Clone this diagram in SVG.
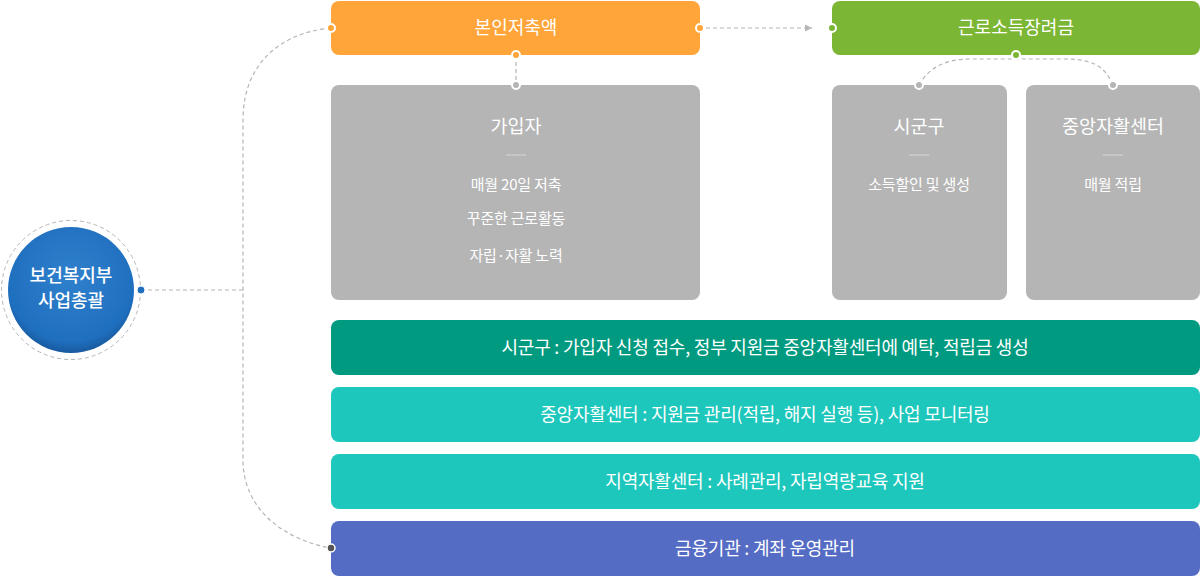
<svg xmlns="http://www.w3.org/2000/svg" width="1200" height="576" viewBox="0 0 1200 576">
<defs>
<style>
text{font-family:"Noto Sans CJK KR","Noto Sans",sans-serif;fill:#fff;text-anchor:middle}
.t{font-size:18px}
.h{font-size:18.5px}
.s{font-size:15px;letter-spacing:-0.2px}
.b{font-size:18px;letter-spacing:-0.2px}
.c{font-size:18px;font-weight:500}
.dash{fill:none;stroke:#b5b5b5;stroke-width:1.2;stroke-dasharray:4 3}
.gray{fill:#b5b5b5}
.sep{stroke:#d8d8d8;stroke-width:1}
</style>
<radialGradient id="cg" cx="50%" cy="40%" r="60%">
<stop offset="0" stop-color="#2f80cc"/>
<stop offset="0.85" stop-color="#1f6fbf"/>
<stop offset="1" stop-color="#185a9e"/>
</radialGradient>
<marker id="arr" viewBox="0 0 10 10" refX="10" refY="5" markerWidth="7" markerHeight="8" markerUnits="userSpaceOnUse" orient="auto">
<path d="M0,0 L10,5 L0,10 Z" fill="#b5b5b5"/>
</marker>
</defs>
<g id="connectors">
<path class="dash" d="M141,290 H243"/>
<path class="dash" d="M331,28 C285,32 243,60 243,120 V460 C243,510 285,540 331,548"/>
<path class="dash" d="M706,28 H812" marker-end="url(#arr)"/>
<path class="dash" d="M516,55 V85"/>
<path class="dash" d="M919,85 C930,65 950,59 970,59 H1065 C1090,59 1105,65 1113,85"/>
</g>
<g id="hq">
<circle cx="71" cy="290" r="69.5" fill="#fff" stroke="#b5b5b5" stroke-width="1" stroke-dasharray="4 3"/>
<circle cx="71" cy="290" r="63" fill="url(#cg)"/>
<text class="c" x="71" y="282">보건복지부</text>
<text class="c" x="71" y="307">사업총괄</text>
<circle cx="141" cy="290" r="4" fill="#1f6fbf" stroke="#fff" stroke-width="1"/>
</g>
<g id="self-saving">
<rect x="331" y="1" width="369" height="54" rx="8" fill="#ffa53a"/>
<text class="t" x="516" y="34">본인저축액</text>
<circle cx="331" cy="28" r="4" fill="#ffa53a" stroke="#fff" stroke-width="2"/>
<circle cx="700" cy="28" r="4" fill="#ffa53a" stroke="#fff" stroke-width="2"/>
<circle cx="516" cy="55" r="4" fill="#ffa53a" stroke="#fff" stroke-width="2"/>
</g>
<g id="incentive">
<rect x="832" y="1" width="368" height="54" rx="8" fill="#7bb634"/>
<text class="t" x="1016" y="34">근로소득장려금</text>
<circle cx="832" cy="28" r="4" fill="#7bb634" stroke="#fff" stroke-width="2"/>
<circle cx="1016" cy="55" r="4" fill="#7bb634" stroke="#fff" stroke-width="2"/>
</g>
<g id="subscriber">
<rect class="gray" x="331" y="85" width="369" height="215" rx="8"/>
<circle cx="516" cy="85" r="4" fill="#b5b5b5" stroke="#fff" stroke-width="2"/>
<text class="h" x="516" y="133">가입자</text>
<line class="sep" x1="506" y1="155" x2="526" y2="155"/>
<text class="s" x="516" y="190">매월 20일 저축</text>
<text class="s" x="516" y="224">꾸준한 근로활동</text>
<text class="s" x="516" y="261">자립·자활 노력</text>
</g>
<g id="sigungu">
<rect class="gray" x="832" y="85" width="175" height="215" rx="8"/>
<circle cx="919" cy="85" r="4" fill="#b5b5b5" stroke="#fff" stroke-width="2"/>
<text class="h" x="919" y="133">시군구</text>
<line class="sep" x1="909" y1="155" x2="929" y2="155"/>
<text class="s" x="919" y="190">소득할인 및 생성</text>
</g>
<g id="central">
<rect class="gray" x="1026" y="85" width="174" height="215" rx="8"/>
<circle cx="1113" cy="85" r="4" fill="#b5b5b5" stroke="#fff" stroke-width="2"/>
<text class="h" x="1113" y="133">중앙자활센터</text>
<line class="sep" x1="1103" y1="155" x2="1123" y2="155"/>
<text class="s" x="1113" y="190">매월 적립</text>
</g>
<g id="bar1">
<rect x="331" y="320" width="869" height="55" rx="8" fill="#009a80"/>
<text class="b" x="765" y="354">시군구 : 가입자 신청 접수, 정부 지원금 중앙자활센터에 예탁, 적립금 생성</text>
</g>
<g id="bar2">
<rect x="331" y="387" width="869" height="55" rx="8" fill="#1ec7bc"/>
<text class="b" x="765" y="421">중앙자활센터 : 지원금 관리(적립, 해지 실행 등), 사업 모니터링</text>
</g>
<g id="bar3">
<rect x="331" y="454" width="869" height="55" rx="8" fill="#1ec7bc"/>
<text class="b" x="765" y="488">지역자활센터 : 사례관리, 자립역량교육 지원</text>
</g>
<g id="bar4">
<rect x="331" y="521" width="869" height="55" rx="8" fill="#556cc4"/>
<text class="b" x="765" y="555">금융기관 : 계좌 운영관리</text>
<circle cx="331" cy="548" r="4" fill="#555" stroke="#fff" stroke-width="1.5"/>
</g>
</svg>
